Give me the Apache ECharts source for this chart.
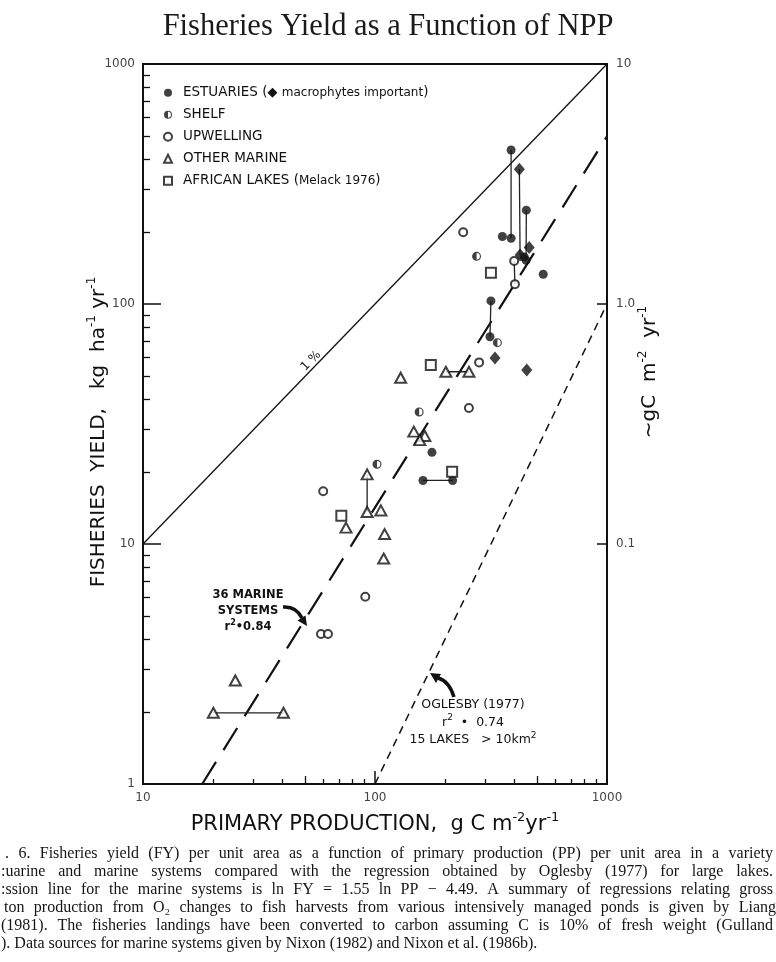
<!DOCTYPE html>
<html><head><meta charset="utf-8">
<script src="https://cdn.jsdelivr.net/npm/echarts@6/dist/echarts.min.js"></script>
<style>html,body{margin:0;padding:0;background:#fff}#c{width:776px;height:962px}</style>
</head><body><div id="c"></div><script>
// ---- data (PP gC m-2 yr-1, FY kg ha-1 yr-1) ----
const estuaries = [[386,438],[354,191],[386,188],[449,246],[440,157],[448,152],[531,133],[316,103],[313,73],[176,24.1],[161,18.4],[216,18.4]];
const macrophytes = [[419,364],[422,160],[462,172],[329,59.6],[451,53.1]];
const shelf = [[274,158],[337,69],[155,35.5],[102,21.5]];
const upwelling = [[240,199],[398,151],[401,121],[281,57.1],[254,36.9],[59.8,16.6],[90.8,6.03],[58.5,4.22],[62.7,4.22]];
const otherMarine = [[129,49.3],[202,52.2],[254,52.2],[147,29.4],[164,28.2],[156,27.1],[92.5,19.5],[92.5,13.6],[106,13.8],[75,11.7],[110,11.0],[109,8.7],[25,2.7],[20.1,1.98],[40.3,1.98]];
const africanLakes = [[316,135],[174,55.7],[215,20.0],[71.6,13.1]];
const links = [
  [[386,438],[386,188]], [[419,364],[422,160]], [[449,246],[448,152]], [[398,151],[401,121]],
  [[316,103],[313,73]], [[161,18.4],[216,18.4]], [[202,52.2],[254,52.2]], [[92.5,19.5],[92.5,13.6]], [[20.1,1.98],[40.3,1.98]]
];
const onePercentLine = [[10,10],[1000,1000]];
const marineRegression = [[18,1],[1000,500]];
const oglesbyLine = [[100,1],[1000,100]];
const xLabels = [10,100,1000];
const xMajorTicks = [100];
const xMidTicks = [50,500];
const xMinorTicks = [20,30,40,60,70,80,90,200,300,400,600,700,800,900];
const yLabels = [1,10,100,1000];
const yMajorTicks = [10,100];
const yMinorTicks = [2,3,4,5,6,7,8,9,20,30,40,50,60,70,80,90,200,300,400,500,600,700,800,900];
const rightTicks = [0.1,1,10];
const legendNames = ['ESTUARIES','SHELF','UPWELLING','OTHER MARINE','AFRICAN LAKES (Melack 1976)'];
const captionLines = [
  '. 6.  Fisheries yield (FY) per unit area as a function of primary production (PP) per unit area in a variety',
  ':uarine and marine systems compared with the regression obtained by Oglesby (1977) for large lakes.',
  ':ssion line for the marine systems is ln FY = 1.55 ln PP \u2212 4.49. A summary of regressions relating gross',
  ' ton production from O\u2082 changes to fish harvests from various intensively managed ponds is given by Liang',
  '(1981). The fisheries landings have been converted to carbon assuming C is 10% of fresh weight (Gulland',
  '). Data sources for marine systems given by Nixon (1982) and Nixon et al. (1986b).'
];

// ---- styles ----
const INK = '#111';
const LET = 'DejaVu Sans';
const halfPath = 'path://M10,0A10,10,0,1,1,10,20A10,10,0,1,1,10,0ZM10,2.6A7.4,7.4,0,1,0,10,17.4A7.4,7.4,0,1,0,10,2.6ZM10,2.6A7.4,7.4,0,0,0,10,17.4Z';

const chart = echarts.init(document.getElementById('c'), null, {renderer:'canvas'});

function logAxis(extra){
  return Object.assign({type:'log', logBase:10, splitLine:{show:false}, gridIndex:0}, extra);
}
const hiddenLine = {show:false};
const noLabel = {show:false};
const plain = function(v){ return String(+(+v).toPrecision(4)); };
function nameStyle(size, pad){
  return {padding:pad, rich:{b:{fontFamily:LET, fontSize:size, color:INK, lineHeight:size+6},
    s:{fontFamily:LET, fontSize:Math.round(size*0.62), color:INK, verticalAlign:'top', lineHeight:12}}};
}

const xAxes = [
  logAxis({position:'bottom', min:10, max:1000,
    axisLine:{lineStyle:{color:INK, width:2}},
    axisTick:{inside:true, length:13, customValues:xMajorTicks, lineStyle:{color:INK, width:1.5}},
    axisLabel:{customValues:xLabels, margin:8, color:'#444', fontFamily:LET, fontSize:12, formatter:plain},
    name:'{b|PRIMARY PRODUCTION,  g C m}{s|-2}{b|yr}{s|-1}', nameLocation:'middle', nameGap:27, nameMoveOverlap:false,
    nameTextStyle:nameStyle(21, 0)
  }),
  logAxis({position:'bottom', min:10, max:1000, axisLine:hiddenLine, axisLabel:noLabel,
    axisTick:{inside:true, length:8, customValues:xMidTicks, lineStyle:{color:INK, width:1.3}}}),
  logAxis({position:'bottom', min:10, max:1000, axisLine:hiddenLine, axisLabel:noLabel,
    axisTick:{inside:true, length:5, customValues:xMinorTicks, lineStyle:{color:INK, width:1.3}}})
];
const yAxes = [
  logAxis({position:'left', min:1, max:1000,
    axisLine:{lineStyle:{color:INK, width:2}},
    axisTick:{inside:true, length:18, customValues:yMajorTicks, lineStyle:{color:INK, width:1.5}},
    axisLabel:{customValues:yLabels, margin:8, color:'#444', fontFamily:LET, fontSize:12, formatter:plain},
    name:'{b|FISHERIES  YIELD,   kg  ha}{s|-1}{b| yr}{s|-1}', nameLocation:'middle', nameRotate:90, nameGap:31, nameMoveOverlap:false,
    nameTextStyle:nameStyle(20, [0,16,0,0])
  }),
  logAxis({position:'left', min:1, max:1000, axisLine:hiddenLine, axisLabel:noLabel,
    axisTick:{inside:true, length:7, customValues:yMinorTicks, lineStyle:{color:INK, width:1.3}}}),
  logAxis({position:'right', min:0.01, max:10,
    axisLine:{lineStyle:{color:INK, width:2}},
    axisTick:{inside:true, length:10, customValues:rightTicks, lineStyle:{color:INK, width:1.5}},
    axisLabel:{customValues:rightTicks, margin:9, color:'#444', fontFamily:LET, fontSize:12,
      formatter:function(v){ return Math.abs(v-1)<1e-9 ? '1.0' : plain(v); }},
    name:'{b|~gC  m}{s|-2}{b|  yr}{s|-1}', nameLocation:'middle', nameRotate:90, nameGap:30, nameMoveOverlap:false,
    nameTextStyle:nameStyle(20, [0,0,0,104])
  })
];

function lineSeries(name, data, style, z){
  return {name:name, type:'line', data:data, xAxisIndex:0, yAxisIndex:0, symbol:'none', silent:true,
    lineStyle:style, z:z||2, animation:false};
}
const series = [
  lineSeries('1%', onePercentLine, {color:INK, width:1.3, type:'solid'}),
  lineSeries('regression', marineRegression, {color:INK, width:2.2, type:[26,14]}),
  lineSeries('Oglesby', oglesbyLine, {color:INK, width:1.5, type:[8,6]})
];
links.forEach(function(seg, i){ series.push(lineSeries('link'+i, seg, {color:'#222', width:1.3}, 3)); });
function scatter(name, data, symbol, size, empty){
  return {name:name, type:'scatter', data:data, xAxisIndex:0, yAxisIndex:0, symbol:symbol, symbolSize:size,
    itemStyle: empty ? {color:INK, borderColor:INK, borderWidth:1.3} : {color:INK},
    z:5, animation:false};
}
series.push(scatter('ESTUARIES', estuaries, 'circle', 9));
series.push(scatter('macrophytes', macrophytes, 'diamond', [11,13]));
series.push(scatter('SHELF', shelf, halfPath, 9));
series.push(scatter('UPWELLING', upwelling, 'emptyCircle', 8, true));
series.push(scatter('OTHER MARINE', otherMarine, 'emptyTriangle', [11,10], true));
series.push(scatter('AFRICAN LAKES (Melack 1976)', africanLakes, 'emptyRect', 10, true));

// ---- caption, justified word by word ----
const CAP_FONT = '16px "Liberation Serif"';
const mctx = document.createElement('canvas').getContext('2d');
mctx.font = CAP_FONT;
const captionGraphics = [];
captionLines.forEach(function(line, i){
  const y = 854 + 18*i;
  const left = i===0 ? 5 : 1;
  const right = 773;
  const words = line.trim().split(/\s+/);
  const widths = words.map(function(w){ return mctx.measureText(w).width; });
  const total = widths.reduce(function(a,b){return a+b;},0);
  const last = i === captionLines.length-1;
  const gap = last ? mctx.measureText(' ').width : (right-left-total)/(words.length-1);
  let x = left + (i===3 ? 3 : 0);
  words.forEach(function(w, k){
    captionGraphics.push({type:'text', x:x, y:y, silent:true,
      style:{text:w, font:CAP_FONT, fill:'#151515', verticalAlign:'middle'}});
    x += widths[k] + gap;
  });
});

const annoFont = 'bold 11.5px "' + LET + '"';
const graphics = [
  {type:'text', x:311, y:361, rotation:0.80, silent:true,
    style:{text:'1 %', font:'12px "'+LET+'"', fill:INK, align:'center', verticalAlign:'middle'}},
  {type:'text', x:248, y:587, silent:true,
    style:{text:'36 MARINE\nSYSTEMS\nr{s|2}\u20220.84', font:annoFont, fill:INK, align:'center', verticalAlign:'top', lineHeight:16,
      rich:{s:{font:'bold 8px "'+LET+'"', verticalAlign:'top', lineHeight:16}}}},
  {type:'bezierCurve', silent:true, shape:{x1:283, y1:607, x2:302, y2:618, cpx1:296, cpy1:606},
    style:{stroke:INK, lineWidth:3.5, fill:null}},
  {type:'polygon', silent:true, shape:{points:[[307,626],[305.5,615.5],[297.5,620.5]]}, style:{fill:INK}},
  {type:'text', x:473, y:696, silent:true,
    style:{text:'OGLESBY (1977)\nr{s|2}  \u2022  0.74\n15 LAKES   > 10km{s|2}', font:'12.5px "'+LET+'"', fill:INK, align:'center', verticalAlign:'top', lineHeight:17.5,
      rich:{s:{font:'9px "'+LET+'"', verticalAlign:'top', lineHeight:17.5}}}},
  {type:'bezierCurve', silent:true, shape:{x1:454, y1:697, x2:438, y2:678, cpx1:449, cpy1:681},
    style:{stroke:INK, lineWidth:3.5, fill:null}},
  {type:'polygon', silent:true, shape:{points:[[430,673],[441,674],[436,683]]}, style:{fill:INK}}
].concat(captionGraphics);

chart.setOption({
  animation:false,
  backgroundColor:'#fff',
  title:{text:'Fisheries Yield as a Function of NPP', left:'center', top:6,
    textStyle:{fontFamily:'Liberation Serif', fontSize:30.5, fontWeight:'normal', color:'#1a1a1a'}},
  grid:{left:143, right:169, top:64, bottom:178, show:true, borderColor:INK, borderWidth:2, backgroundColor:'transparent'},
  legend:{orient:'vertical', left:163, top:85, padding:0, itemWidth:8, itemHeight:8, itemGap:6.5, selectedMode:false,
    data:[{name:legendNames[0], icon:'circle'},{name:legendNames[1], icon:halfPath},{name:legendNames[2], icon:'emptyCircle'},
          {name:legendNames[3], icon:'emptyTriangle'},{name:legendNames[4], icon:'emptyRect'}],
    formatter:function(n){
      if(n===legendNames[0]) return 'ESTUARIES ({d|\u25C6} {m|macrophytes important})';
      if(n===legendNames[4]) return 'AFRICAN LAKES ({m|Melack 1976})';
      return n;
    },
    textStyle:{fontFamily:LET, fontSize:13.5, color:INK, lineHeight:15.5, padding:[0,0,0,6],
      rich:{d:{fontSize:13, color:INK}, m:{fontFamily:LET, fontSize:12, color:INK}}}
  },
  xAxis:xAxes,
  yAxis:yAxes,
  series:series,
  graphic:graphics
});
</script></body></html>
